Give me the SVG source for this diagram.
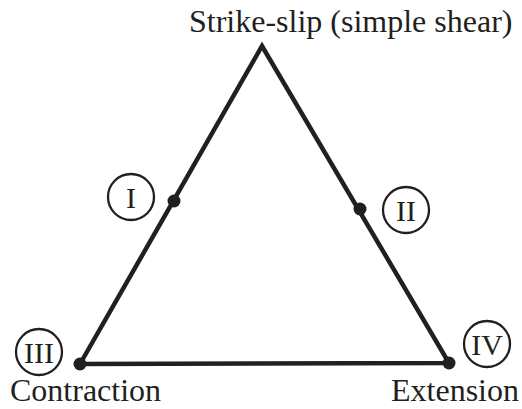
<svg xmlns="http://www.w3.org/2000/svg" width="522" height="409" viewBox="0 0 522 409">
<style>
.lbl{font-family:"Liberation Serif","Times New Roman",serif;font-size:32px;fill:#231f20}
.num{font-family:"Liberation Serif","Times New Roman",serif;font-size:30px;fill:#231f20;text-anchor:middle}
.ring{fill:#fff;stroke:#231f20;stroke-width:2.3}
.dot{fill:#231f20}
.edge{stroke:#231f20;stroke-width:4.5;fill:none;stroke-linejoin:miter}
</style>
<rect width="522" height="409" fill="#fff"/>
<g id="connectors">
<polygon class="edge" points="80,364 262,46 449,363"/>
</g>
<g id="top-label"><text class="lbl" x="189" y="32">Strike-slip (simple shear)</text></g>
<g id="node-III">
<circle class="dot" cx="80" cy="364" r="6.5"/>
<circle class="ring" cx="39" cy="352" r="23"/>
<text class="num" x="39" y="362.5">III</text>
<text class="lbl" x="10" y="401">Contraction</text>
</g>
<g id="node-IV">
<circle class="dot" cx="449" cy="363" r="6.5"/>
<circle class="ring" cx="487" cy="344" r="23"/>
<text class="num" x="487" y="354.5">IV</text>
<text class="lbl" x="391" y="401">Extension</text>
</g>
<g id="node-I">
<circle class="dot" cx="174" cy="201" r="6.5"/>
<circle class="ring" cx="131" cy="197" r="23"/>
<text class="num" x="131" y="207.5">I</text>
</g>
<g id="node-II">
<circle class="dot" cx="360" cy="209" r="6.5"/>
<circle class="ring" cx="406" cy="210" r="23"/>
<text class="num" x="406" y="220.5">II</text>
</g>
</svg>
